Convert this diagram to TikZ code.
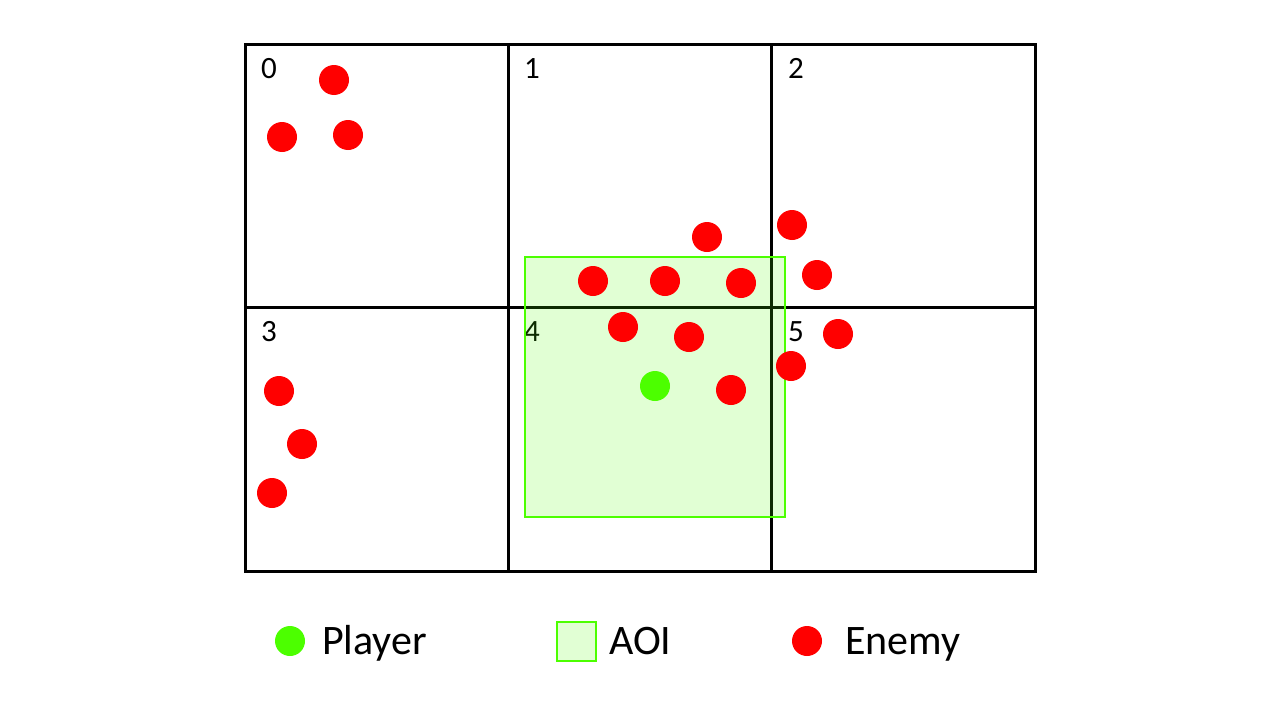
\documentclass[tikz,border=0pt]{standalone}
\usepackage{fontspec}
\setmainfont{Carlito}
\definecolor{enemyred}{RGB}{255,0,0}
\definecolor{playergreen}{RGB}{76,255,0}
\tikzset{
  gridline/.style={line width=3pt, black},
  enemy/.style={circle, fill=enemyred, inner sep=0pt, minimum size=30pt},
  player/.style={circle, fill=playergreen, inner sep=0pt, minimum size=30pt},
  aoi/.style={draw=playergreen, line width=2.8pt, fill=playergreen, fill opacity=0.17},
  cellnum/.style={anchor=base west, inner sep=0pt, font=\fontsize{31}{31}\selectfont},
  legendtxt/.style={anchor=base west, inner sep=0pt, font=\fontsize{42}{42}\selectfont},
}
\begin{document}
\begin{tikzpicture}[x=1pt,y=-1pt]
\useasboundingbox (0,0) rectangle (1280,720);
% grid
\draw[gridline] (245,44) rectangle (1035,571);
\draw[gridline] (508,44) -- (508,571);
\draw[gridline] (771,44) -- (771,571);
\draw[gridline] (245,307) -- (1035,307);
% cell numbers
\node[cellnum] (n0) at (261,78) {0};
\node[cellnum] (n1) at (524,78) {1};
\node[cellnum] (n2) at (788,78) {2};
\node[cellnum] (n3) at (261,341) {3};
\node[cellnum] (n4) at (524,341) {4};
\node[cellnum] (n5) at (788,341) {5};
% AOI
\path[aoi] (525,257) rectangle (785,517);
\draw[playergreen, line width=2.8pt] (525,257) rectangle (785,517);
% enemies
\foreach \p [count=\i] in {(334,80),(282,137),(348,135),(279,391),(302,444),(272,493),
  (707,237),(792,225),(817,275),(593,281),(665,281),(741,283),(623,327),(689,337),
  (838,334),(791,366),(731,390)}
  \node[enemy] (e\i) at \p {};
% player
\node[player] (pl) at (655,386) {};
% legend
\node[player] (lp) at (290,641) {};
\node[legendtxt] (lpt) at (322,654) {Player};
\path[aoi] (557,622) rectangle (596,661);
\draw[playergreen, line width=2.8pt] (557,622) rectangle (596,661);
\node[legendtxt] (lat) at (609,654) {AOI};
\node[enemy] (le) at (807,641) {};
\node[legendtxt] (let) at (845,654) {Enemy};
\end{tikzpicture}
\end{document}
